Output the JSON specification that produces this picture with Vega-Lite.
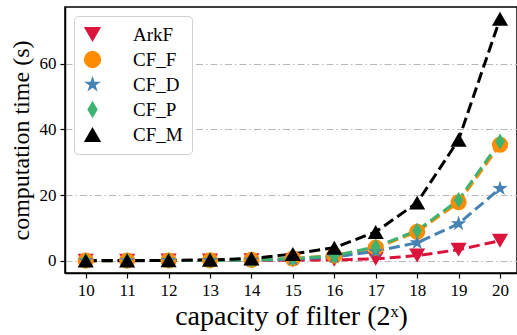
{
  "$schema": "https://vega.github.io/schema/vega-lite/v6.json",
  "autosize": {"type": "none"},
  "padding": {"left": 65, "top": 7, "right": 0, "bottom": 62},
  "width": 452,
  "height": 266,
  "background": "white",
  "config": {
    "font": "Liberation Serif",
    "view": {"stroke": "black", "strokeWidth": 1.5},
    "axis": {
      "labelFont": "Liberation Serif",
      "titleFont": "Liberation Serif",
      "labelFontSize": 17,
      "titleFontSize": 24,
      "titleFontWeight": "normal",
      "labelColor": "black",
      "titleColor": "black",
      "domainColor": "black",
      "domainWidth": 1.5,
      "tickColor": "black",
      "tickWidth": 1.2,
      "tickSize": 5
    },
    "legend": {
      "labelFont": "Liberation Serif",
      "labelFontSize": 19,
      "labelColor": "black"
    }
  },
  "data": {
    "values": [
      {"s": "ArkF", "x": 10, "y": 0.05}, {"s": "ArkF", "x": 11, "y": 0.06}, {"s": "ArkF", "x": 12, "y": 0.08}, {"s": "ArkF", "x": 13, "y": 0.1}, {"s": "ArkF", "x": 14, "y": 0.15}, {"s": "ArkF", "x": 15, "y": 0.2}, {"s": "ArkF", "x": 16, "y": 0.3}, {"s": "ArkF", "x": 17, "y": 0.6}, {"s": "ArkF", "x": 18, "y": 1.6}, {"s": "ArkF", "x": 19, "y": 3.4}, {"s": "ArkF", "x": 20, "y": 6.1},
      {"s": "CF_F", "x": 10, "y": 0.05}, {"s": "CF_F", "x": 11, "y": 0.07}, {"s": "CF_F", "x": 12, "y": 0.1}, {"s": "CF_F", "x": 13, "y": 0.15}, {"s": "CF_F", "x": 14, "y": 0.3}, {"s": "CF_F", "x": 15, "y": 0.7}, {"s": "CF_F", "x": 16, "y": 1.6}, {"s": "CF_F", "x": 17, "y": 4.0}, {"s": "CF_F", "x": 18, "y": 8.8}, {"s": "CF_F", "x": 19, "y": 17.8}, {"s": "CF_F", "x": 20, "y": 35.3},
      {"s": "CF_D", "x": 10, "y": 0.04}, {"s": "CF_D", "x": 11, "y": 0.05}, {"s": "CF_D", "x": 12, "y": 0.08}, {"s": "CF_D", "x": 13, "y": 0.12}, {"s": "CF_D", "x": 14, "y": 0.2}, {"s": "CF_D", "x": 15, "y": 0.5}, {"s": "CF_D", "x": 16, "y": 1.2}, {"s": "CF_D", "x": 17, "y": 2.9}, {"s": "CF_D", "x": 18, "y": 5.5}, {"s": "CF_D", "x": 19, "y": 11.3}, {"s": "CF_D", "x": 20, "y": 22.0},
      {"s": "CF_P", "x": 10, "y": 0.05}, {"s": "CF_P", "x": 11, "y": 0.07}, {"s": "CF_P", "x": 12, "y": 0.1}, {"s": "CF_P", "x": 13, "y": 0.15}, {"s": "CF_P", "x": 14, "y": 0.3}, {"s": "CF_P", "x": 15, "y": 0.7}, {"s": "CF_P", "x": 16, "y": 1.5}, {"s": "CF_P", "x": 17, "y": 4.3}, {"s": "CF_P", "x": 18, "y": 9.2}, {"s": "CF_P", "x": 19, "y": 18.5}, {"s": "CF_P", "x": 20, "y": 36.3},
      {"s": "CF_M", "x": 10, "y": 0.06}, {"s": "CF_M", "x": 11, "y": 0.09}, {"s": "CF_M", "x": 12, "y": 0.15}, {"s": "CF_M", "x": 13, "y": 0.3}, {"s": "CF_M", "x": 14, "y": 0.7}, {"s": "CF_M", "x": 15, "y": 2.1}, {"s": "CF_M", "x": 16, "y": 4.0}, {"s": "CF_M", "x": 17, "y": 8.8}, {"s": "CF_M", "x": 18, "y": 17.7}, {"s": "CF_M", "x": 19, "y": 36.8}, {"s": "CF_M", "x": 20, "y": 73.6}
    ]
  },
  "encoding": {
    "x": {
      "field": "x", "type": "quantitative",
      "scale": {"domain": [9.5, 20.41], "nice": false, "zero": false},
      "axis": {"values": [10, 11, 12, 13, 14, 15, 16, 17, 18, 19, 20], "grid": false, "title": "capacity of filter (2ˣ)", "titleFontSize": 28, "titlePadding": 4, "labelPadding": 4}
    },
    "y": {
      "field": "y", "type": "quantitative",
      "scale": {"domain": [-3.7, 77.2], "nice": false, "zero": false},
      "axis": {"values": [0, 20, 40, 60], "grid": true, "gridColor": "#b8b8b8", "gridDash": [7, 3, 1.5, 3], "gridWidth": 1, "title": "computation time (s)", "titlePadding": 6, "labelPadding": 4}
    },
    "color": {
      "field": "s", "type": "nominal",
      "sort": ["ArkF", "CF_F", "CF_D", "CF_P", "CF_M"],
      "scale": {"domain": ["ArkF", "CF_F", "CF_D", "CF_P", "CF_M"], "range": ["#DC143C", "#FF8C00", "#4682B4", "#3CB371", "#000000"]},
      "legend": {
        "title": null, "orient": "top-left", "offset": 9,
        "padding": 9, "rowPadding": 5, "symbolSize": 300, "symbolStrokeWidth": 0,
        "labelOffset": 31, "fillColor": "white", "strokeColor": "#d0d0d0", "cornerRadius": 4,
        "symbolOpacity": 1
      }
    }
  },
  "layer": [
    {
      "mark": {"type": "line", "strokeWidth": 3, "strokeDash": [11, 5]},
      "encoding": {"detail": {"field": "s"}}
    },
    {
      "mark": {"type": "point", "filled": true, "opacity": 1, "size": 260},
      "encoding": {
        "shape": {
          "field": "s", "type": "nominal",
          "sort": ["ArkF", "CF_F", "CF_D", "CF_P", "CF_M"],
          "scale": {"domain": ["ArkF", "CF_F", "CF_D", "CF_P", "CF_M"], "range": ["triangle-down", "circle", "M0,-1L0.2245,-0.309L0.951,-0.309L0.363,0.118L0.588,0.809L0,0.382L-0.588,0.809L-0.363,0.118L-0.951,-0.309L-0.2245,-0.309Z", "M0,-1L0.6,0L0,1L-0.6,0Z", "triangle-up"]},
          "legend": {
            "title": null, "orient": "top-left", "offset": 9,
            "padding": 9, "rowPadding": 5, "symbolSize": 300, "symbolStrokeWidth": 0,
            "labelOffset": 31, "fillColor": "white", "strokeColor": "#d0d0d0", "cornerRadius": 4,
            "symbolOpacity": 1
          }
        }
      }
    }
  ]
}
